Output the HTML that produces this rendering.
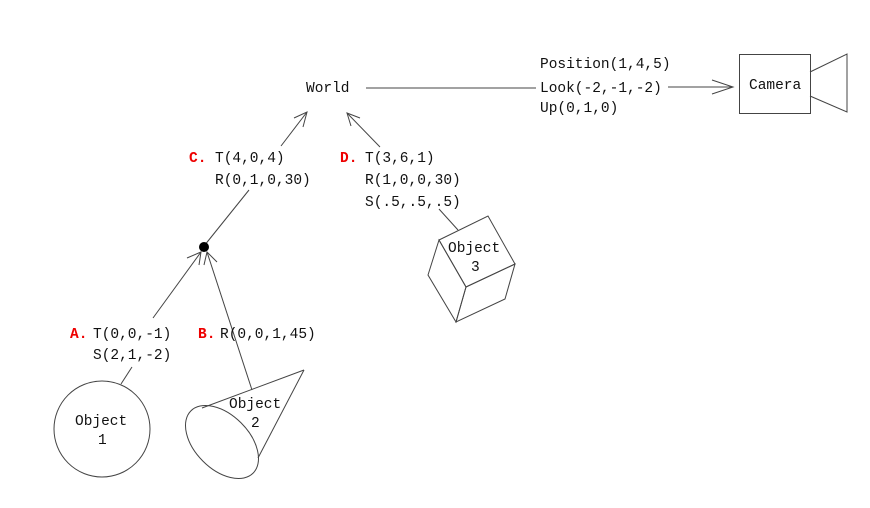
<!DOCTYPE html>
<html><head><meta charset="utf-8"><style>
html,body{margin:0;padding:0;background:#fff;}
svg{display:block;}
text{font-family:"Liberation Mono","DejaVu Sans Mono",monospace;font-size:14.5px;fill:#111;}
.r{fill:#e00;font-weight:bold;}
</style></head><body>
<svg width="870" height="508" viewBox="0 0 870 508" xmlns="http://www.w3.org/2000/svg">
<g stroke="#444" stroke-width="1" fill="none">
<line x1="366" y1="88" x2="536" y2="88"/>
<line x1="668" y1="87" x2="733" y2="87"/>
<polyline points="712,80 733,87 712,94"/>
<rect x="739.5" y="54.5" width="71" height="59" fill="#fff"/>
<polyline points="810,72 847,54 847,112 810,96"/>
<line x1="281" y1="146" x2="307" y2="112"/>
<polyline points="294,118 307,112 303,127"/>
<line x1="380" y1="147" x2="347" y2="113"/>
<polyline points="360,118 347,113 351,126"/>
<line x1="249" y1="190" x2="204" y2="246"/>
<line x1="153" y1="318" x2="201" y2="252"/>
<polyline points="187,258 201,252 199,265"/>
<polyline points="204,265 207,252 217,262"/>
<line x1="252" y1="390" x2="207" y2="252"/>
<line x1="439" y1="209" x2="458" y2="230"/>
<line x1="132" y1="367" x2="121" y2="384"/>
<circle cx="102" cy="429" r="48"/>
<ellipse cx="222" cy="442" rx="44" ry="27" transform="rotate(45 222 442)"/>
<line x1="202" y1="408" x2="304" y2="370"/>
<line x1="258" y1="458" x2="304" y2="370"/>
<polygon points="439,240 488,216 515,264 466,287" fill="#fff"/>
<polygon points="439,240 428,275 456,322 466,287"/>
<polygon points="466,287 456,322 505,299 515,264"/>
</g>
<circle cx="204" cy="247" r="5" fill="#000"/>
<text x="306" y="92">World</text>
<text x="540" y="68">Position(1,4,5)</text>
<text x="540" y="92">Look(-2,-1,-2)</text>
<text x="540" y="112">Up(0,1,0)</text>
<text x="749" y="89">Camera</text>
<text class="r" x="189" y="162">C.</text>
<text x="215" y="162">T(4,0,4)</text>
<text x="215" y="184">R(0,1,0,30)</text>
<text class="r" x="340" y="162">D.</text>
<text x="365" y="162">T(3,6,1)</text>
<text x="365" y="184">R(1,0,0,30)</text>
<text x="365" y="206">S(.5,.5,.5)</text>
<text x="448" y="252">Object</text>
<text x="471" y="271">3</text>
<text class="r" x="70" y="338">A.</text>
<text x="93" y="338">T(0,0,-1)</text>
<text x="93" y="359">S(2,1,-2)</text>
<text class="r" x="198" y="338">B.</text>
<text x="220" y="338">R(0,0,1,45)</text>
<text x="75" y="425">Object</text>
<text x="98" y="444">1</text>
<text x="229" y="408">Object</text>
<text x="251" y="427">2</text>
</svg>
</body></html>
